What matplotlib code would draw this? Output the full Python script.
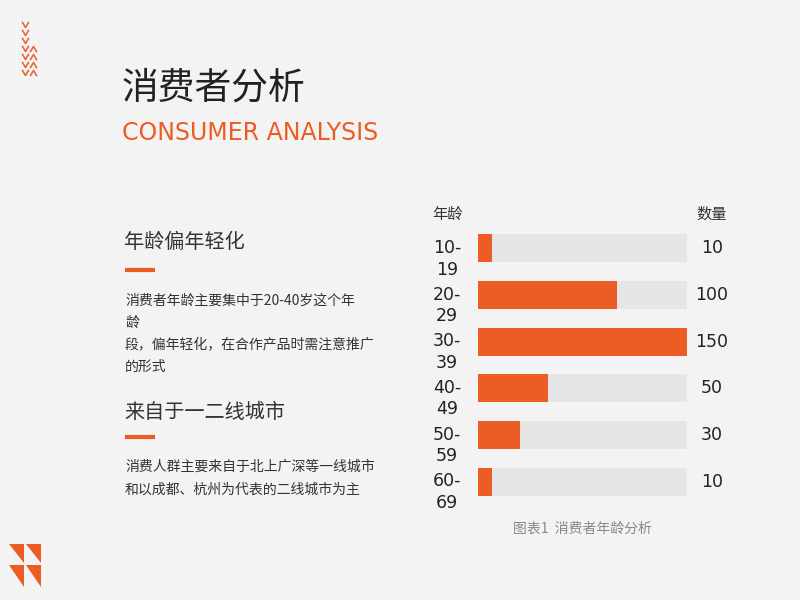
import matplotlib
matplotlib.use('Agg')
import matplotlib.pyplot as plt
from matplotlib.patches import Polygon

plt.rcParams['font.family'] = ['Noto Sans CJK SC', 'DejaVu Sans']

# data
age_groups = ['10-\n19', '20-\n29', '30-\n39', '40-\n49', '50-\n59', '60-\n69']
counts = [10, 100, 150, 50, 30, 10]
max_count = 150

orange = '#eb5d24'
grey_bar = '#e6e6e6'
bg = '#f3f3f3'

fig = plt.figure(figsize=(8, 6), dpi=100, facecolor=bg)

# overlay in pixel coordinates for decoration and text
deco = fig.add_axes([0, 0, 1, 1])
deco.set_xlim(0, 800)
deco.set_ylim(600, 0)
deco.axis('off')
deco.patch.set_alpha(0)

# chevrons at top-left
for i, y in enumerate([25, 33, 41, 49, 57, 65, 73]):
    deco.plot([22.5, 25.5, 28.5], [y - 2.5, y + 2.5, y - 2.5], color=orange, lw=1.1)
    if i >= 3:
        deco.plot([30.5, 33.5, 36.5], [y + 2.5, y - 2.5, y + 2.5], color=orange, lw=1.1)

# logo at bottom-left
for x0, y0, y1 in [(9, 544, 563), (26, 544, 563), (9, 565, 587), (26, 565, 587)]:
    deco.add_patch(Polygon([(x0, y0), (x0 + 15, y0), (x0 + 15, y1)],
                           closed=True, color=orange, lw=0))

# titles
deco.text(122, 88, '消费者分析', fontsize=26.5, color='#222222', va='center', ha='left')
deco.text(122, 133, 'CONSUMER ANALYSIS', fontsize=17, color=orange,
          va='center', ha='left', family='DejaVu Sans')

# section 1
deco.text(124, 243, '年龄偏年轻化', fontsize=14.5, color='#333333', va='center')
deco.plot([125, 155], [270, 270], color=orange, lw=3, solid_capstyle='butt')
body1 = ['消费者年龄主要集中于20-40岁这个年', '龄', '段，偏年轻化，在合作产品时需注意推广', '的形式']
for k, line in enumerate(body1):
    deco.text(125, 301 + 22 * k, line, fontsize=10, color='#333333', va='center')

# section 2
deco.text(124, 412, '来自于一二线城市', fontsize=14.5, color='#333333', va='center')
deco.plot([125, 155], [437, 437], color=orange, lw=3, solid_capstyle='butt')
body2 = ['消费人群主要来自于北上广深等一线城市', '和以成都、杭州为代表的二线城市为主']
for k, line in enumerate(body2):
    deco.text(125, 467 + 23 * k, line, fontsize=10, color='#333333', va='center')

# bar chart
ax = fig.add_axes([478 / 800, 1 - 505 / 600, 209 / 800, 280 / 600])
ax.patch.set_alpha(0)
ypos = list(range(len(counts)))
ax.barh(ypos, [max_count] * len(counts), height=0.6, color=grey_bar)
ax.barh(ypos, counts, height=0.6, color=orange)
ax.set_xlim(0, max_count)
ax.set_ylim(len(counts) - 0.5, -0.5)
ax.axis('off')

for i, (lab, c) in enumerate(zip(age_groups, counts)):
    ax.text(-0.148, i - 0.2, lab, transform=ax.get_yaxis_transform(),
            ha='center', va='top', fontsize=12.5, color='#222222',
            family='DejaVu Sans', linespacing=1.25)
    ax.text(1.12, i, str(c), transform=ax.get_yaxis_transform(),
            ha='center', va='center', fontsize=12.5, color='#222222',
            family='DejaVu Sans')

ax.text(-0.148, -0.72, '年龄', transform=ax.get_yaxis_transform(),
        ha='center', va='center', fontsize=11, color='#333333')
ax.text(1.12, -0.72, '数量', transform=ax.get_yaxis_transform(),
        ha='center', va='center', fontsize=11, color='#333333')
ax.text(0.5, 6.0, '图表1  消费者年龄分析', transform=ax.get_yaxis_transform(),
        ha='center', va='center', fontsize=10, color='#888888')

fig.savefig('out.png', dpi=100, facecolor=bg)
